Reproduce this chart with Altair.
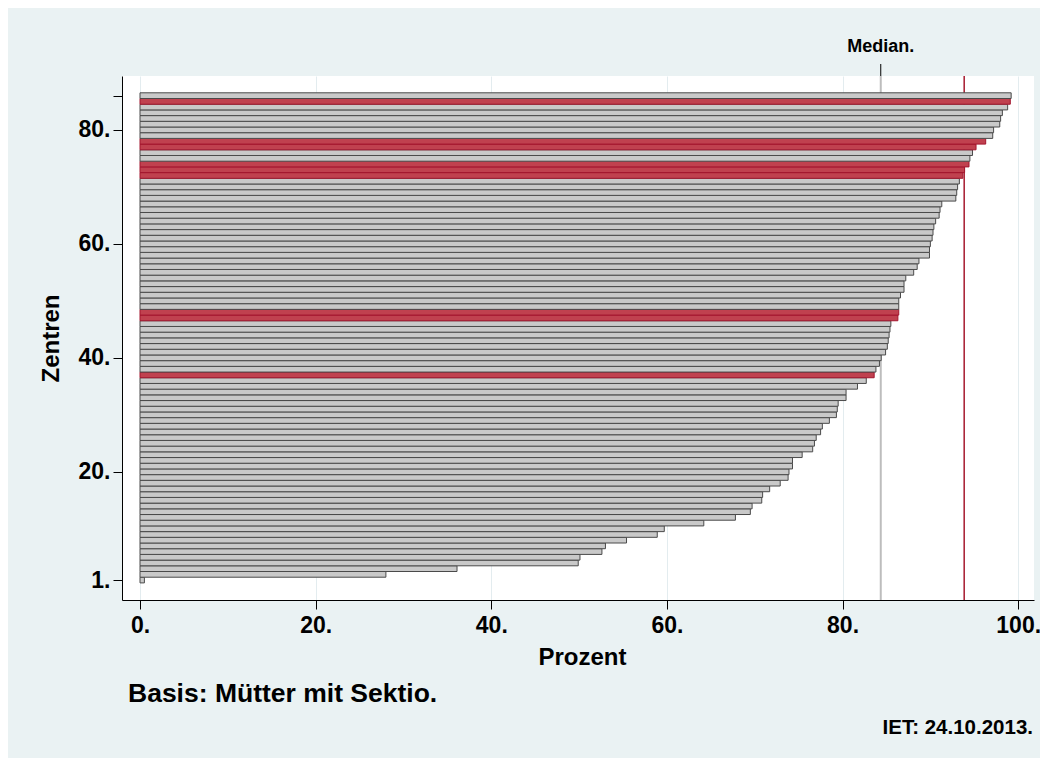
import altair as alt
import pandas as pd

# Percent per centre, sorted ascending (centre rank 1..86)
percent = [
    0.5, 28.0, 36.1, 49.9, 50.1, 52.6, 53.0, 55.4, 58.9, 59.7,
    64.2, 67.8, 69.5, 69.7, 70.8, 70.9, 71.7, 72.9, 73.8, 73.9,
    74.3, 74.3, 75.4, 76.6, 76.8, 77.0, 77.5, 77.7, 78.5, 79.3,
    79.4, 79.5, 80.4, 80.4, 81.7, 82.7, 83.6, 83.8, 84.2, 84.4,
    84.9, 85.1, 85.2, 85.3, 85.4, 85.5, 86.3, 86.4, 86.4, 86.4,
    86.6, 87.0, 87.0, 87.2, 88.1, 88.5, 88.7, 89.9, 89.9, 90.0,
    90.2, 90.3, 90.4, 90.6, 91.0, 91.1, 91.3, 92.9, 93.0, 93.1,
    93.3, 93.7, 93.9, 94.4, 94.5, 94.8, 95.2, 96.3, 97.1, 97.2,
    97.9, 98.0, 98.2, 98.8, 99.1, 99.2,
]
highlighted = [37, 47, 48, 72, 73, 74, 77, 78, 85]
median_value = 84.35
reference_value = 93.85
x_ticks = [0, 20, 40, 60, 80, 100]
y_ticks = [1, 20, 40, 60, 80, 86]
x_title = "Prozent"
y_title = "Zentren"
median_label = "Median."
note_text = "Basis: Mütter mit Sektio."
date_text = "IET: 24.10.2013."

FONT = "Liberation Sans"
PLOT_W = 912
PLOT_H = 524

df = pd.DataFrame({"rank": list(range(1, len(percent) + 1)), "percent": percent})
df["group"] = ["hi" if r in highlighted else "base" for r in df["rank"]]

xscale = alt.Scale(domain=[-2.05, 101.8], nice=False, zero=False)
yscale = alt.Scale(domain=[-2.5, 89.45], nice=False, zero=False)

x_axis = alt.Axis(
    values=x_ticks, labelExpr="datum.label + '.'", title=x_title,
    grid=True, gridColor="#E3ECEF", gridWidth=1,
    domainColor="black", domainWidth=1, tickColor="black", tickSize=9,
    labelFont=FONT, labelFontSize=23, labelFontWeight="bold", labelColor="black", labelPadding=5,
    titleFont=FONT, titleFontSize=24, titleFontWeight="bold", titleColor="black",
    titleX=PLOT_W / 2 + 4, titleY=57, titleBaseline="middle", titleAlign="center",
)
y_axis = alt.Axis(
    values=y_ticks, labelExpr="datum.value == 86 ? '' : datum.label + '.'", title=y_title,
    grid=False, domainColor="black", domainWidth=1, tickColor="black", tickSize=9,
    labelFont=FONT, labelFontSize=23, labelFontWeight="bold", labelColor="black", labelPadding=3,
    titleFont=FONT, titleFontSize=24, titleFontWeight="bold", titleColor="black",
    titleX=-71, titleY=PLOT_H / 2, titleAngle=270, titleBaseline="middle", titleAlign="center",
)

color_scale = alt.Scale(domain=["base", "hi"], range=["#C9C9C9", "#C0414F"])
stroke_scale = alt.Scale(domain=["base", "hi"], range=["#4A4A4A", "#A3162E"])

bars = alt.Chart(df).transform_calculate(
    lo="datum.rank - 0.5", hi="datum.rank + 0.5", zero="0"
).mark_bar(strokeWidth=1).encode(
    x=alt.X("zero:Q", scale=xscale, axis=x_axis),
    x2="percent:Q",
    y=alt.Y("lo:Q", scale=yscale, axis=y_axis),
    y2="hi:Q",
    color=alt.Color("group:N", scale=color_scale, legend=None),
    stroke=alt.Stroke("group:N", scale=stroke_scale, legend=None),
)

med_df = pd.DataFrame({"v": [median_value], "t": [median_label]})
ref_df = pd.DataFrame({"v": [reference_value]})

median_line = alt.Chart(med_df).mark_rule(color="#BDBDBD", strokeWidth=2).encode(
    x=alt.X("v:Q", scale=xscale), y=alt.value(0), y2=alt.value(PLOT_H)
)
median_tick = alt.Chart(med_df).mark_rule(color="black", strokeWidth=1).encode(
    x=alt.X("v:Q", scale=xscale), y=alt.value(-12), y2=alt.value(0)
)
median_text = alt.Chart(med_df).mark_text(
    font=FONT, fontSize=18, fontWeight="bold", color="black", baseline="middle", align="center"
).encode(x=alt.X("v:Q", scale=xscale), y=alt.value(-29), text="t:N")
ref_line = alt.Chart(ref_df).mark_rule(color="#A6192E", strokeWidth=1.5).encode(
    x=alt.X("v:Q", scale=xscale), y=alt.value(0), y2=alt.value(PLOT_H)
)

notes_df = pd.DataFrame({"t": [note_text]})
date_df = pd.DataFrame({"t": [date_text]})
note = alt.Chart(notes_df).mark_text(
    font=FONT, fontSize=26.5, fontWeight="bold", color="black", align="left", baseline="middle"
).encode(x=alt.value(6), y=alt.value(618), text="t:N")
date = alt.Chart(date_df).mark_text(
    font=FONT, fontSize=20.5, fontWeight="bold", color="black", align="right", baseline="middle"
).encode(x=alt.value(911), y=alt.value(652), text="t:N")

chart = alt.layer(
    median_line, ref_line, bars, median_tick, median_text, note, date
).properties(
    width=PLOT_W, height=PLOT_H,
    autosize=alt.AutoSizeParams(type="none"),
    padding={"left": 114, "top": 68, "right": 6, "bottom": 158},
    background="#EAF2F3",
).configure_view(fill="white", stroke=None)

chart.save("out.html", embed_options={"renderer": "svg", "actions": False})
